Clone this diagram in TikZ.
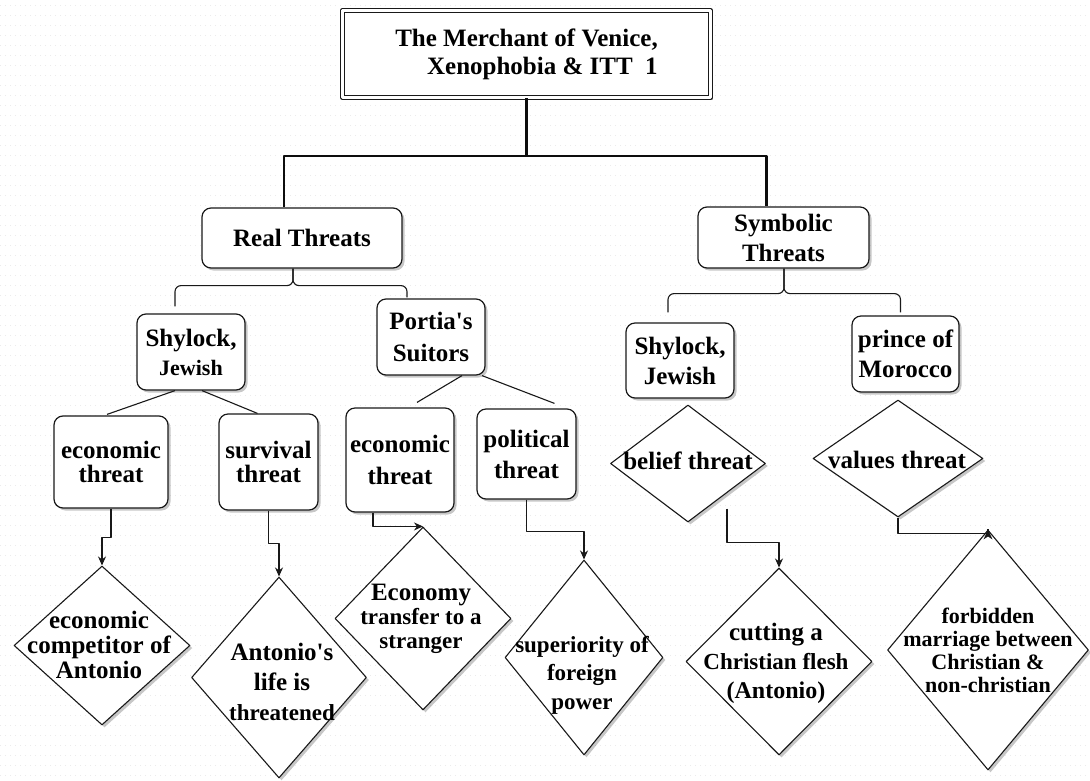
\documentclass[tikz,border=0pt]{standalone}
\usepackage{fontspec}
\setmainfont{Liberation Serif}
\usetikzlibrary{shapes.geometric,arrows.meta,shadows,calc}
\begin{document}
\begin{tikzpicture}[x=1pt,y=-1pt,line join=round,
  dshadow/.style={drop shadow={shadow xshift=2.5pt,shadow yshift=-2.5pt,fill=black,opacity=0.22}},
  box/.style={draw=black!90,line width=1.2pt,rounded corners=9pt,fill=white,inner sep=0pt,align=center,dshadow,
    font=\bfseries\fontsize{25}{29}\selectfont},
  titlebox/.style={draw=black!90,double=white,double distance=2.8pt,line width=1.5pt,fill=white,inner sep=0pt,align=right,dshadow},
  dia/.style={draw=black!90,diamond,line width=1.1pt,fill=white,inner sep=0pt,dshadow},
  dtxt/.style={inner sep=0pt,align=center},
  thk/.style={line width=2.4pt,black!95},
  thn/.style={line width=1.1pt,black!90},
  arr/.style={thn,-{Stealth[length=9pt,width=8pt]}}
]
\useasboundingbox (0,0) rectangle (1090,780);
\fill[white] (0,0) rectangle (1090,780);
\foreach \yy in {5,15,...,775}
  \draw[black!8,line width=0.8pt,dash pattern=on 1.2pt off 3.8pt] (0,\yy) -- (1090,\yy);

% title
\node[titlebox,minimum width=368pt,minimum height=87pt,font=\bfseries\fontsize{25}{28}\selectfont]
  (title) at (526.5,54) {The Merchant of Venice,\\Xenophobia \& ITT\ \ 1};

% level 1
\node[box,minimum width=200pt,minimum height=60pt] (real) at (302,238) {Real Threats};
\node[box,minimum width=171pt,minimum height=61pt,font=\bfseries\fontsize{25}{30}\selectfont] (sym) at (783.5,237.5) {Symbolic\\Threats};

% level 2
\node[box,minimum width=108pt,minimum height=76pt] (shyL) at (191,352) {Shylock,\\{\fontsize{22}{29}\selectfont Jewish}};
\node[box,minimum width=108pt,minimum height=76pt,font=\bfseries\fontsize{25}{32}\selectfont] (portia) at (431,337) {Portia\textquotesingle s\\Suitors};
\node[box,minimum width=108pt,minimum height=75pt,font=\bfseries\fontsize{25}{30}\selectfont] (shyR) at (680,360.5) {Shylock,\\Jewish};
\node[box,minimum width=107pt,minimum height=76pt,font=\bfseries\fontsize{25}{30}\selectfont] (prince) at (905.5,354) {prince of\\Morocco};

% level 3 boxes
\node[box,minimum width=114pt,minimum height=92pt,font=\bfseries\fontsize{25}{24}\selectfont] (econL) at (111,462) {economic\\threat};
\node[box,minimum width=99pt,minimum height=96pt,font=\bfseries\fontsize{25}{24}\selectfont] (surv) at (268.5,462) {survival\\threat};
\node[box,minimum width=108pt,minimum height=104pt,font=\bfseries\fontsize{25}{32}\selectfont] (econM) at (400,460) {economic\\threat};
\node[box,minimum width=99pt,minimum height=90pt,font=\bfseries\fontsize{25}{31}\selectfont] (polit) at (526.5,454) {political\\threat};

% level 3 diamonds
\node[dia,minimum width=155pt,minimum height=117pt] (bel) at (688,463.5) {};
\node[dtxt,font=\bfseries\fontsize{25}{29}\selectfont] (belt) at (688,461) {belief threat};
\node[dia,minimum width=170pt,minimum height=117pt] (val) at (898,458.5) {};
\node[dtxt,font=\bfseries\fontsize{25}{29}\selectfont] (valt) at (897,460) {values threat};

% level 4 diamonds
\node[dia,minimum width=176pt,minimum height=159pt] (d1) at (102,645.5) {};
\node[dtxt,font=\bfseries\fontsize{25}{25}\selectfont] (d1t) at (99,645) {economic\\competitor of\\Antonio};
\node[dia,minimum width=175pt,minimum height=201pt] (d2) at (279,677.5) {};
\node[dtxt,font=\bfseries\fontsize{25}{30}\selectfont] (d2t) at (282,682) {Antonio\textquotesingle s\\life is\\{\fontsize{23}{30}\selectfont threatened}};
\node[dia,minimum width=176pt,minimum height=183pt] (d3) at (423,618.5) {};
\node[dtxt,font=\bfseries\fontsize{25}{24}\selectfont] (d3t) at (421,619) {Economy\\{\fontsize{23}{24}\selectfont transfer to a}\\{\fontsize{23}{24}\selectfont stranger}};
\node[dia,minimum width=158pt,minimum height=195pt] (d4) at (584,657.5) {};
\node[dtxt,font=\bfseries\fontsize{23}{28.5}\selectfont] (d4t) at (582,675) {superiority of\\foreign\\power};
\node[dia,minimum width=186pt,minimum height=187pt] (d5) at (779,661.5) {};
\node[dtxt,font=\bfseries\fontsize{25}{29}\selectfont] (d5t) at (776,663) {cutting a\\{\fontsize{23}{29}\selectfont Christian flesh}\\{\fontsize{24}{29}\selectfont (Antonio)}};
\node[dia,minimum width=201pt,minimum height=240pt] (d6) at (988,650) {};
\node[dtxt,font=\bfseries\fontsize{22}{23}\selectfont] (d6t) at (988,650) {forbidden\\marriage between\\Christian \&\\non-christian};

% thick top connectors
\draw[thk] (title.south) -- ++(0,58) coordinate (hub);
\draw[thk] (hub) -| ($(real.north)+(-18,0)$);
\draw[thk] (hub) -| ($(sym.north)+(-17,0)$);

% brace under Real Threats
\coordinate (rb) at ($(real.south)+(-9,17)$);
\draw[thn,rounded corners=6pt] ($(shyL.north)+(-16,-7)$) |- (rb) -- ($(real.south)+(-9,0)$);
\draw[thn,rounded corners=6pt] ($(portia.north)+(-24,-1)$) |- (rb) -- ($(real.south)+(-9,0)$);

% brace under Symbolic Threats
\coordinate (sb) at ($(sym.south)+(0.5,25)$);
\draw[thn,rounded corners=6pt] ($(shyR.north)+(-12,-10)$) |- (sb) -- ($(sym.south)+(0.5,0)$);
\draw[thn,rounded corners=6pt] ($(prince.north)+(-5,-3)$) |- (sb) -- ($(sym.south)+(0.5,0)$);

% splits
\draw[thn] ($(shyL.south)+(-16,0)$) -- ($(econL.north)+(-4,-1)$);
\draw[thn] ($(shyL.south)+(11,0)$) -- ($(surv.north)+(-11,0)$);
\draw[thn] ($(portia.south)+(31,0)$) -- ($(econM.north)+(17,-5)$);
\draw[thn] ($(portia.south)+(51,0)$) -- ($(polit.north)+(28,-5)$);

% arrows
\draw[arr] (econL.south) -- ++(0,29) -| (d1.north);
\draw[arr] (surv.south) -- ++(0,33) -| (d2.north);
\draw[arr] ($(econM.south)+(-27,0)$) |- (d3.north);
\draw[arr] (polit.south) -- ++(0,32) -| (d4.north);
\draw[arr] ($(bel.center)+(39,45)$) -- ++(0,34) -| (d5.north);
\draw[thn] (val.south) -- ++(0,16) -| (d6.north);
% upward arrowhead at the top of the last diamond
\fill[black!90] (d6.north) -- ($(d6.north)+(4.5,10)$) -- ($(d6.north)+(0,7)$) -- ($(d6.north)+(-4.5,10)$) -- cycle;
\end{tikzpicture}
\end{document}
